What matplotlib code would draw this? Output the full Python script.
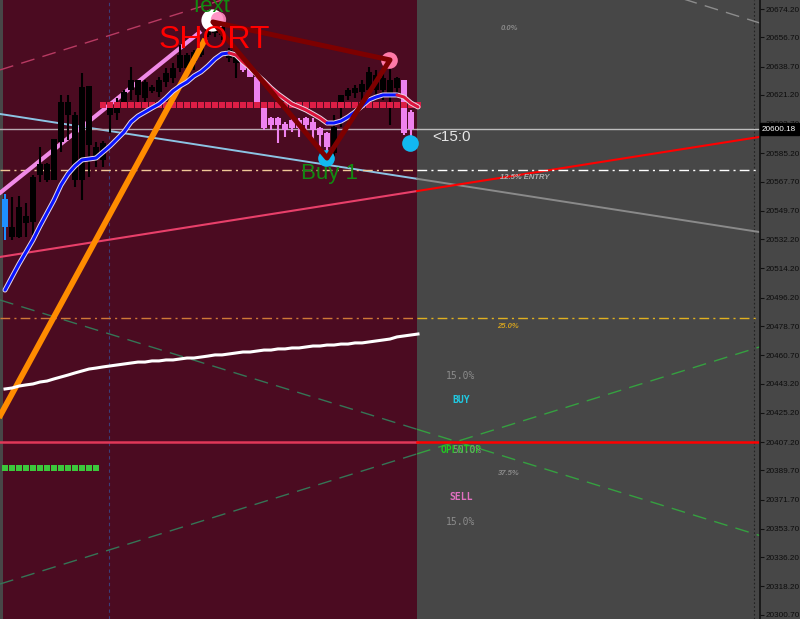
import numpy as np
import matplotlib.pyplot as plt

plt.rcParams['font.family'] = ['Liberation Sans', 'DejaVu Sans']

# ---- candles (bar 0 = oldest visible bar) ----
opens = [20539.8, 20533.6, 20533.6, 20542.2, 20542.9, 20571.8, 20568.8, 20568.8, 20592.2, 20608.8,
         20568.8, 20568.8, 20590.3, 20582.9, 20581.1, 20608.8, 20610.1, 20615.6, 20624.3, 20621.2,
         20619.3, 20623.6, 20623.0, 20629.2, 20631.7, 20637.8, 20637.8, 20641.5, 20645.8, 20658.2,
         20659.4, 20658.2, 20644.0, 20640.9, 20641.5, 20637.8, 20632.3, 20613.2, 20607.0, 20607.0,
         20603.3, 20605.8, 20605.8, 20607.0, 20604.5, 20600.8, 20597.7, 20585.4, 20613.8, 20620.6,
         20622.4, 20623.0, 20624.3, 20624.3, 20624.3, 20619.9, 20625.5, 20630.4, 20610.7]
closes = [20557.0, 20539.8, 20552.1, 20546.6, 20570.6, 20578.6, 20578.6, 20594.0, 20616.9, 20616.9,
          20608.8, 20626.1, 20626.7, 20589.1, 20591.6, 20613.8, 20613.8, 20623.0, 20630.4, 20630.4,
          20629.2, 20626.1, 20630.4, 20634.7, 20637.8, 20645.8, 20645.8, 20647.7, 20652.0, 20663.1,
          20666.2, 20663.1, 20648.9, 20645.8, 20636.6, 20632.3, 20615.0, 20600.8, 20602.7, 20602.7,
          20599.6, 20600.8, 20600.8, 20602.7, 20599.6, 20596.5, 20589.1, 20601.4, 20621.2, 20624.3,
          20625.5, 20628.0, 20635.4, 20633.5, 20631.7, 20630.4, 20631.7, 20597.7, 20600.2]
highs = [20560.1, 20558.3, 20558.9, 20554.6, 20571.8, 20589.1, 20579.2, 20594.0, 20621.2, 20621.2,
         20610.7, 20634.7, 20626.7, 20592.2, 20592.8, 20616.9, 20619.3, 20624.3, 20638.4, 20630.4,
         20630.4, 20627.3, 20632.3, 20637.8, 20640.9, 20652.0, 20647.1, 20648.9, 20653.2, 20665.6,
         20667.4, 20666.2, 20650.2, 20645.8, 20642.8, 20637.8, 20633.5, 20616.2, 20607.6, 20607.6,
         20604.5, 20607.0, 20607.0, 20607.6, 20607.0, 20601.4, 20598.4, 20608.8, 20621.2, 20625.5,
         20627.3, 20630.4, 20638.4, 20636.6, 20634.7, 20641.5, 20632.3, 20630.4, 20611.9]
lows = [20531.8, 20531.8, 20533.0, 20533.6, 20534.8, 20567.5, 20567.5, 20568.8, 20586.0, 20593.4,
        20564.4, 20556.4, 20570.6, 20576.8, 20576.8, 20597.7, 20605.8, 20613.8, 20618.1, 20616.2,
        20616.9, 20622.4, 20619.9, 20626.1, 20628.6, 20635.4, 20634.7, 20636.6, 20644.6, 20656.9,
        20656.9, 20655.1, 20641.5, 20631.7, 20635.4, 20632.3, 20615.0, 20599.6, 20599.6, 20591.6,
        20595.3, 20598.4, 20595.3, 20598.4, 20592.2, 20589.1, 20582.9, 20582.9, 20601.4, 20618.1,
        20619.3, 20618.1, 20619.9, 20621.2, 20618.1, 20602.7, 20622.4, 20596.5, 20591.6]

# fast MA (blue up / red down) and slow MA (white), one value per bar
fast_ma = [20500.9, 20509.0, 20517.0, 20524.4, 20531.8, 20540.4, 20548.4, 20556.4, 20565.7, 20572.5,
           20577.4, 20581.1, 20581.7, 20582.3, 20586.0, 20589.7, 20594.0, 20598.4, 20604.5, 20608.2,
           20610.7, 20613.2, 20615.6, 20619.3, 20623.6, 20626.7, 20629.2, 20632.9, 20635.4, 20639.1,
           20643.4, 20646.5, 20647.1, 20645.8, 20641.5, 20637.8, 20633.5, 20629.8, 20625.5, 20621.8,
           20618.7, 20615.6, 20613.8, 20611.9, 20609.5, 20607.0, 20603.9, 20603.9, 20605.1, 20607.6,
           20610.7, 20614.4, 20618.1, 20619.9, 20621.2, 20621.2, 20621.2, 20619.9, 20616.2, 20613.8]
slow_ma = [20439.9, 20440.5, 20441.7, 20442.4, 20443.0, 20444.2, 20444.8, 20446.1, 20447.3, 20448.5,
           20449.8, 20451.0, 20452.2, 20452.8, 20453.5, 20454.1, 20454.7, 20455.3, 20455.9, 20456.5,
           20456.5, 20457.2, 20457.2, 20457.8, 20457.8, 20458.4, 20459.0, 20459.0, 20459.6, 20460.2,
           20460.9, 20460.9, 20461.5, 20462.1, 20462.7, 20462.7, 20463.3, 20463.9, 20463.9, 20464.6,
           20464.6, 20465.2, 20465.2, 20465.8, 20466.4, 20466.4, 20467.0, 20467.0, 20467.6, 20467.6,
           20468.3, 20468.3, 20468.9, 20469.5, 20470.1, 20470.7, 20472.0, 20472.6, 20473.2, 20473.8]

# dotted support / resistance levels
res_level, res_bars = 20615.0, list(range(14, 60))
sup_level, sup_bars = 20391.2, list(range(0, 14))

# horizontal levels
price_now = 20600.18
entry_level = 20574.9
fib25_level = 20483.7
red_level = 20407.2

# trend lines: two anchor points (bar, price)
light_blue_line = [(0, 20609.0), (100, 20541.9)]
red_rising_line = [(0, 20521.8), (100, 20590.0)]
green_down_line = [(0, 20493.8), (100, 20360.0)]
green_up_line = [(0, 20320.6), (100, 20455.3)]
pink_top_line = [(0, 20637.6), (20, 20664.8)]
gray_top_line = [(100, 20676.2), (107, 20666.7)]
orange_seg = [(-1, 20421.0), (28.6, 20655.6)]
violet_seg = [(-1, 20559.8), (28, 20660.5)]

# pattern triangle and signal dots
tri_x = [29.7, 55, 46]
tri_y = [20666.2, 20642.8, 20582.3]
sell_dot = (54.8, 20642.8)
buy_dots = [(45.9, 20582.3), (57.9, 20591.6)]

tick_vals = [20674.20, 20656.70, 20638.70, 20621.20, 20603.70, 20585.20, 20567.70, 20549.70,
             20532.20, 20514.20, 20496.20, 20478.70, 20460.70, 20443.20, 20425.20, 20407.20,
             20389.70, 20371.70, 20353.70, 20336.20, 20318.20, 20300.70]

MAROON = '#4b0b21'
GRAY = '#474747'
XMIN, XMAX = -0.714, 107.857
SPLIT = 58.86

fig = plt.figure(figsize=(8, 6.19), dpi=100, facecolor=GRAY)
ax = fig.add_axes([0, 0, 760 / 800, 1])
ax.set_facecolor(GRAY)
ax.set_xlim(XMIN, XMAX)
ax.set_ylim(20298.07, 20679.75)
ax.axvspan(-0.29, SPLIT, color=MAROON, zorder=0, lw=0)

# separators
ax.axvline(14.86, color='#3c3c78', ls=(0, (3, 3)), lw=0.8, zorder=0.5)
ax.axvline(107.0, color='#222222', ls=(0, (1.5, 2)), lw=0.8, zorder=0.5)


def hline(y, c_left, c_right, **kw):
    ax.plot([XMIN, SPLIT], [y, y], color=c_left, **kw)
    ax.plot([SPLIT, XMAX], [y, y], color=c_right, **kw)


def trend(pts, c_left, c_right, **kw):
    (x0, y0), (x1, y1) = pts
    k = (y1 - y0) / (x1 - x0)
    f = lambda x: y0 + k * (x - x0)
    ax.plot([XMIN, SPLIT], [f(XMIN), f(SPLIT)], color=c_left, **kw)
    ax.plot([SPLIT, XMAX], [f(SPLIT), f(XMAX)], color=c_right, **kw)


dash = (0, (10, 6))
trend(green_down_line, '#357556', '#35a040', lw=1, ls=dash, zorder=1)
trend(green_up_line, '#357556', '#35a040', lw=1, ls=dash, zorder=1)
trend(pink_top_line, '#b83a62', '#909090', lw=1, ls=dash, zorder=1)
trend(gray_top_line, '#b83a62', '#8c8c8c', lw=1, ls=dash, zorder=1)
trend(light_blue_line, '#8cc4e4', '#8a8a8a', lw=1.4, zorder=1.2)
trend(red_rising_line, '#e8406a', '#ff0000', lw=1.5, zorder=1.2)

hline(price_now, '#b8a8b0', '#bdbdbd', lw=1, zorder=1.3)
hline(entry_level, '#f0c898', '#ffffff', lw=1, ls=(0, (7, 3, 1.5, 3)), zorder=1.3)
hline(fib25_level, '#d07838', '#e0b020', lw=1, ls=(0, (7, 3, 1.5, 3)), zorder=1.3)
hline(red_level, '#e03858', '#ff0000', lw=1.8, zorder=1.3)

# thick trend segments
ax.plot([p[0] for p in violet_seg], [p[1] for p in violet_seg], color='#f08ae6', lw=3,
        solid_capstyle='butt', zorder=2)
ax.plot([p[0] for p in orange_seg], [p[1] for p in orange_seg], color='#ff8c00', lw=4.2,
        solid_capstyle='butt', zorder=3.6)

# candles
x = np.arange(len(opens))
o, c, h, l = map(np.array, (opens, closes, highs, lows))
cols = np.where(c < o, '#ee82ee', '#000000').astype(object)
cols[0] = '#1e90ff'  # first visible bar is highlighted
ax.vlines(x, l, h, colors=list(cols), lw=1.5, zorder=3)
body = np.where(np.abs(c - o) < 0.8, 0.8, c - o)
ax.bar(x, body, bottom=o, width=0.78, color=list(cols), lw=0, zorder=3.1)

# level squares
ax.plot(res_bars, [res_level] * len(res_bars), 's', color='#dc1e46', ms=4.3, mew=0, zorder=3.5)
ax.plot(sup_bars, [sup_level] * len(sup_bars), 's', color='#3cc83c', ms=4.3, mew=0, zorder=3.5)

# slow MA
ax.plot(np.arange(len(slow_ma)), slow_ma, color='white', lw=2.2, zorder=3.7)

# fast MA with light outline, blue rising / red falling
xm = np.arange(len(fast_ma))
ax.plot(xm, fast_ma, color='#e8d8e8', lw=3.6, zorder=3.8, solid_capstyle='round')
ma = np.array(fast_ma)
up = np.r_[True, ma[1:] >= ma[:-1]]
start = 0
for i in range(1, len(ma) + 1):
    if i == len(ma) or up[i] != up[start]:
        seg = slice(max(start - 1, 0), i)
        ax.plot(xm[seg], ma[seg], color='#0a14ff' if up[start] else '#dc143c',
                lw=2.2, zorder=3.9, solid_capstyle='round')
        start = i

# triangle
ax.fill(tri_x, tri_y, fill=False, edgecolor='#7d0000', lw=3.6, joinstyle='round', zorder=5)

# signal dots
ax.plot(29.6, 20667.4, 'o', color='white', ms=16, mew=0, zorder=4.5)
ax.plot(30.4, 20668.2, 'o', color='#ff88c0', ms=11, mew=0, alpha=0.9, zorder=4.6)
ax.plot(*sell_dot, 'o', color='#ff7aa8', ms=12, mew=0, zorder=4.5)
for bx, by in buy_dots:
    ax.plot(bx, by, 'o', color='#12b8f0', ms=12, mew=0, zorder=4.5)

# texts on chart
ax.text(29.3, 20675.5, 'Text', color='#108a10', fontsize=16, ha='center', va='center', zorder=6)
ax.text(29.9, 20655.1, 'SHORT', color='#ff0000', fontsize=23, ha='center', va='center', zorder=6)
ax.text(46.3, 20572.5, 'Buy 1', color='#128a12', fontsize=16, ha='center', va='center', zorder=6)
ax.text(61.0, 20595.3, '<15:0', color='#e6e6e6', fontsize=11, ha='left', va='center', zorder=6)

fib_kw = dict(fontsize=5.5, style='italic', weight='bold', ha='center', va='center', zorder=6)
ax.text(72.0, 20661.9, '0.0%', color='#8a8a8a', **fib_kw)
ax.text(74.3, 20570.6, '12.5% ENTRY', color='#b0b0b0', **fib_kw)
ax.text(71.9, 20478.7, '25.0%', color='#d0a020', **fib_kw)
ax.text(71.9, 20387.5, '37.5%', color='#8a8a8a', **fib_kw)

mono = dict(family='DejaVu Sans Mono', fontsize=7, ha='center', va='center', zorder=6)
ax.text(65.1, 20447.9, '15.0%', color='#8c8c8c', **mono)
ax.text(65.1, 20433.0, 'BUY', color='#20c8e0', weight='bold', **mono)
ax.text(65.1, 20402.3, 'OPENTOP', color='#22c822', weight='bold', **mono)
ax.text(66.0, 20402.3, '50.0%', color='#8c8c8c', alpha=0.8, **mono)
ax.text(65.1, 20373.3, 'SELL', color='#e070c0', weight='bold', **mono)
ax.text(65.1, 20357.9, '15.0%', color='#8c8c8c', **mono)

# price scale on the right
for s in ['left', 'top', 'bottom']:
    ax.spines[s].set_visible(False)
ax.spines['right'].set_color('#111111')
ax.spines['right'].set_linewidth(1.2)
ax.set_xticks([])
ax.yaxis.tick_right()
ax.set_yticks(tick_vals)
ax.set_yticklabels(['%.2f' % v for v in tick_vals], fontsize=5.9, color='#0c0c0c')
ax.tick_params(axis='y', length=3, width=0.8, color='#111111', pad=1)

ax.annotate('%.2f' % price_now, xy=(1.0, price_now), xycoords=('axes fraction', 'data'),
            xytext=(1.5, 0), textcoords='offset points', ha='left', va='center',
            fontsize=5.9, color='white', zorder=10, annotation_clip=False,
            bbox=dict(boxstyle='square,pad=0.3', fc='black', ec='black'))

fig.savefig('out.png', dpi=100, facecolor=GRAY)
